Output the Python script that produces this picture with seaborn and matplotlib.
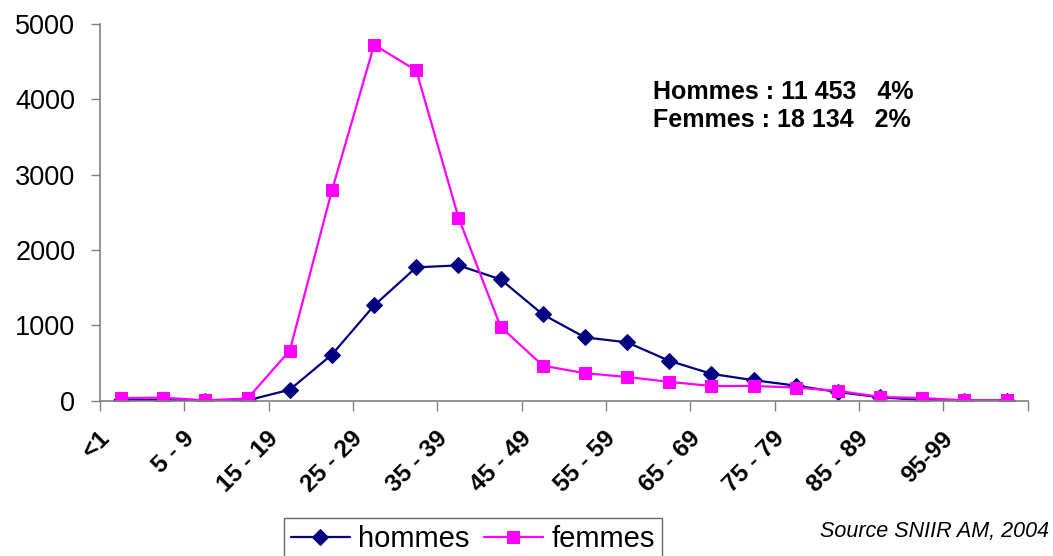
import numpy as np
import pandas as pd
import seaborn as sns
import matplotlib.pyplot as plt
from matplotlib.transforms import ScaledTranslation

sns.set_style("ticks")
plt.rcParams['font.family'] = ['Liberation Sans', 'DejaVu Sans']
plt.rcParams['text.color'] = 'black'

# Classes d'age
ages = ['<1', '1 - 4', '5 - 9', '10 - 14', '15 - 19', '20 - 24', '25 - 29', '30 - 34',
        '35 - 39', '40 - 44', '45 - 49', '50 - 54', '55 - 59', '60 - 64', '65 - 69',
        '70 - 74', '75 - 79', '80 - 84', '85 - 89', '90 - 94', '95-99', '100+']

hommes = [15, 5, 2, 5, 146, 612, 1263, 1769, 1795, 1609, 1144, 840, 774, 529,
          356, 272, 200, 115, 45, 10, 2, 2]
femmes = [35, 40, 5, 30, 665, 2790, 4720, 4380, 2430, 980, 465, 365, 315, 250,
          195, 195, 175, 130, 50, 35, 5, 5]

data = pd.DataFrame({'age': ages, 'hommes': hommes, 'femmes': femmes})
data['pos'] = np.arange(len(ages))

fig = plt.figure(figsize=(10.53, 5.56), dpi=100)
ax = fig.add_axes([0.095, 0.2793, 0.881, 0.678])

sns.lineplot(data=data, x='pos', y='hommes', ax=ax, color='#000080', linewidth=1.6,
             marker='D', markersize=8, markeredgecolor='#000080', label='hommes')
sns.lineplot(data=data, x='pos', y='femmes', ax=ax, color='#FF00FF', linewidth=1.6,
             marker='s', markersize=9, markeredgecolor='#FF00FF', label='femmes')

ax.set_xlim(-0.5, len(ages) - 0.5)
ax.set_ylim(0, 5000)
ax.set_yticks([0, 1000, 2000, 3000, 4000, 5000])
ax.tick_params(axis='y', labelsize=19.5, length=6.7, width=1, color='#808080',
               labelcolor='black', pad=11)

# graduations entre les classes, etiquettes une classe sur deux
ax.set_xticks(np.arange(-0.5, len(ages), 2))
ax.set_xticklabels([])
ax.tick_params(axis='x', which='major', length=7, width=1, color='#808080')
ax.set_xticks(data['pos'][::2], minor=True)
ax.set_xticklabels(data['age'][::2], minor=True, fontsize=17.5, fontweight='bold')
ax.tick_params(axis='x', which='minor', length=0, pad=19, labelcolor='black')
offset = ScaledTranslation(-0.23, 0, fig.dpi_scale_trans)
for lab in ax.get_xticklabels(minor=True):
    lab.set_rotation(45)
    lab.set_ha('right')
    lab.set_rotation_mode('anchor')
    lab.set_transform(lab.get_transform() + offset)

for side in ['top', 'right']:
    ax.spines[side].set_visible(False)
for side in ['left', 'bottom']:
    ax.spines[side].set_color('#808080')
    ax.spines[side].set_linewidth(1.2)

ax.set_xlabel('')
ax.set_ylabel('')

fig.text(653 / 1053, 1 - 80 / 556, 'Hommes : 11 453   4%\nFemmes : 18 134   2%',
         fontsize=18, fontweight='bold', va='top', ha='left', linespacing=1.2,
         color='black')

ax.legend(loc='center', bbox_to_anchor=(473 / 1053, 1 - 539 / 556),
          bbox_transform=fig.transFigure, ncol=2, fontsize=21, frameon=True,
          fancybox=False, edgecolor='#404040', handlelength=2.0, handletextpad=0.3,
          columnspacing=0.5, borderpad=0.25, borderaxespad=0, labelcolor='black')
ax.get_legend().get_frame().set_linewidth(1)

fig.text(1049 / 1053, 1 - 531 / 556, 'Source SNIIR AM, 2004', fontsize=15.5,
         style='italic', ha='right', va='center', color='black')

fig.savefig('out.png', dpi=100)
